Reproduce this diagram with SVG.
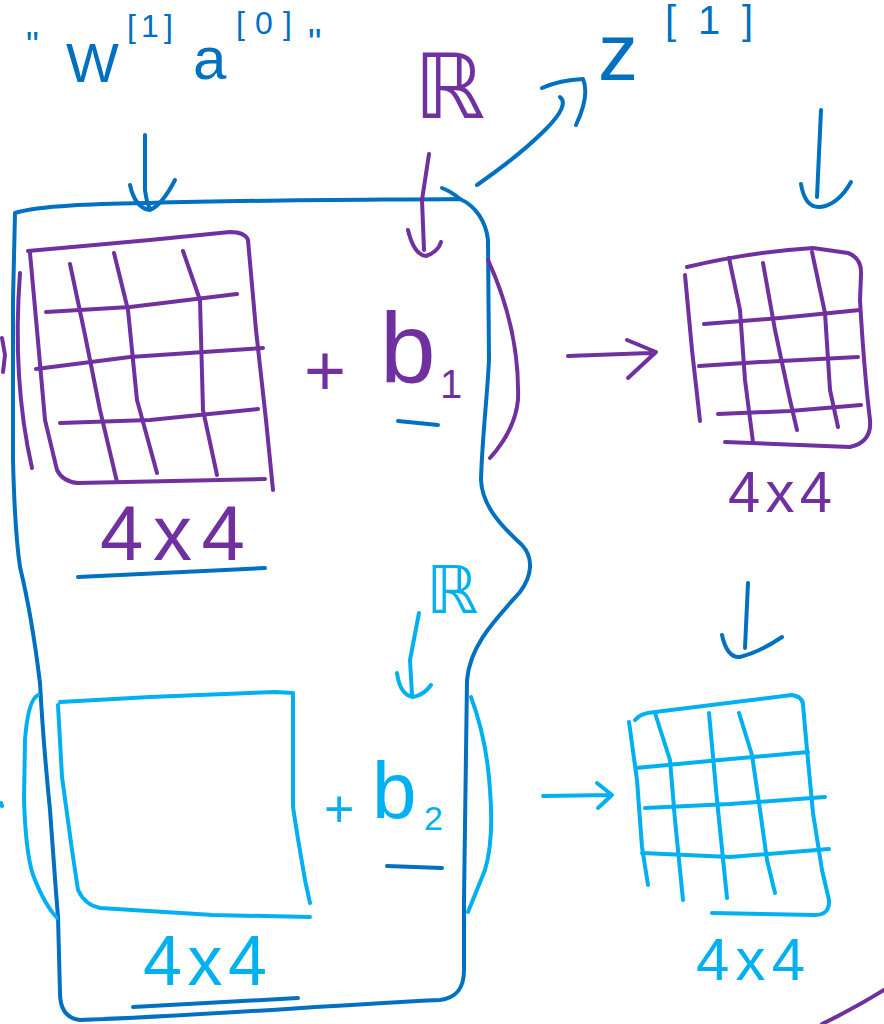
<svg xmlns="http://www.w3.org/2000/svg" width="884" height="1024" viewBox="0 0 884 1024">
<style>
.s{fill:none;stroke-width:4;stroke-linecap:round;stroke-linejoin:round}
.db{stroke:#0070c0}.pu{stroke:#7030a0}.lb{stroke:#00b0f0}
.t{font-family:"Liberation Sans","DejaVu Sans",sans-serif}
.r{font-family:"DejaVu Sans","Liberation Sans",sans-serif}
.tdb{fill:#0070c0}.tpu{fill:#7030a0}.tlb{fill:#00b0f0}
</style>
<rect width="884" height="1024" fill="#ffffff"/>

<g id="outline">
<path class="s db" d="M15,213 C40,205 100,204 150,203 C250,200 350,200 460,199 C476,206 486,222 488,240 L489,360 C487,400 482,440 481,480 C482,505 500,525 522,545 C534,558 532,576 520,592 C495,620 470,645 467,680 L464,900 L464,970 C464,990 455,998 440,1000 C330,1005 200,1016 80,1020 C64,1018 60,1005 60,993 L58,917 C55,880 52,840 50,810 C45,760 42,720 40,683 C36,650 28,600 20,567 C16,540 14,500 13,460 L13,300 Z"/>
<path class="s db" d="M442,188 Q452,192 460,199"/>
</g>

<g id="label-input">
<text class="t tdb" x="26" y="58" font-size="36">"</text>
<text class="t tdb" x="66" y="82" font-size="56">W</text>
<text class="t tdb" x="127" y="37" font-size="32" textLength="46" lengthAdjust="spacing">[1]</text>
<text class="t tdb" x="193" y="79" font-size="60">a</text>
<text class="t tdb" x="236" y="34" font-size="32" textLength="56" lengthAdjust="spacing">[0]</text>
<text class="t tdb" x="308" y="56" font-size="38">"</text>
</g>

<g id="label-R1">
<text class="r tpu" x="414" y="118" font-size="90">ℝ</text>
</g>

<g id="label-z1">
<text class="t tdb" x="598" y="80" font-size="80">z</text>
<text class="t tdb" x="665" y="34" font-size="40" textLength="88" lengthAdjust="spacing">[1]</text>
</g>

<g id="matrix-W1">
<path class="s pu" d="M28,251 L150,240 L230,232 Q245,232 248,240 L256,330 L266,420 L273,490"/>
<path class="s pu" d="M30,253 L37,330 L45,420 L57,470 Q63,482 78,483 L265,479"/>
<path class="s pu" d="M46,312 L130,307 L237,294 M36,369 L130,357 L263,348 M60,423 L150,420 L258,409"/>
<path class="s pu" d="M70,264 L85,335 L100,410 L117,482 M114,253 L128,310 L137,400 L157,473 M183,251 L200,300 L203,410 L217,475"/>
<path class="s pu" d="M20,273 Q12,380 32,468"/>
<path class="s pu" d="M2,338 L5,355 L3,372"/>
<path class="s pu" d="M488,260 Q520,330 518,400 Q515,430 490,458"/>
<text class="t tpu" x="100" y="560" font-size="78" textLength="145" lengthAdjust="spacing">4x4</text>
<path class="s db" d="M78,577 L265,568"/>
</g>

<g id="bias-b1">
<text class="t tpu" x="304" y="395" font-size="72">+</text>
<text class="t tpu" x="380" y="383" font-size="100">b</text>
<text class="t tpu" x="440" y="398" font-size="40">1</text>
<path class="s db" d="M398,421 L438,425"/>
</g>

<g id="matrix-Z1">
<path class="s pu" d="M687,267 Q750,252 813,248 L848,253 Q862,258 861,275 L860,300 Q864,370 870,420 Q872,442 850,447 L725,442"/>
<path class="s pu" d="M685,275 L692,350 L700,421"/>
<path class="s pu" d="M704,324 L780,318 L860,310 M699,366 L760,362 L858,357 M718,414 L790,411 L861,405"/>
<path class="s pu" d="M729,258 L740,310 L745,380 L753,442 M763,263 L775,330 L790,400 L797,430 M812,252 L825,313 L830,390 L838,427"/>
<text class="t tpu" x="728" y="512" font-size="58" textLength="104" lengthAdjust="spacing">4x4</text>
</g>

<g id="label-R2">
<text class="r tlb" x="426" y="613" font-size="66">ℝ</text>
</g>

<g id="matrix-W2">
<path class="s lb" d="M60,702 L150,697 L275,692 L293,693 L293,807 L297,833 L305,880 L310,903"/>
<path class="s lb" d="M58,705 L62,777 L72,850 L78,890 Q85,905 100,908 L213,915 L310,917"/>
<path class="s lb" d="M38,695 Q28,700 25,740 L24,800 Q26,860 35,880 Q45,905 57,918"/>
<path class="s lb" d="M1,803 L2,806"/>
<path class="s lb" d="M471,697 Q487,740 490,790 Q494,840 485,870 L468,912"/>
<text class="t tlb" x="143" y="985" font-size="70" textLength="124" lengthAdjust="spacing">4x4</text>
<path class="s db" d="M133,1007 L298,998"/>
</g>

<g id="bias-b2">
<text class="t tlb" x="324" y="827" font-size="52">+</text>
<text class="t tlb" x="372" y="818" font-size="80">b</text>
<text class="t tlb" x="424" y="830" font-size="34">2</text>
<path class="s db" d="M387,866 L442,868"/>
</g>

<g id="matrix-Z2">
<path class="s lb" d="M635,720 Q640,713 655,712 L792,695 Q803,697 803,705 L807,750 L813,813 L822,870 L829,900 Q830,915 815,915 L712,913"/>
<path class="s lb" d="M629,722 L637,780 L642,847 L648,885"/>
<path class="s lb" d="M636,768 L720,760 L808,752 M645,808 L730,804 L825,797 M642,853 L730,857 L829,849"/>
<path class="s lb" d="M655,713 L670,760 L675,820 L683,900 M709,713 L717,800 L727,898 M739,713 L752,755 L760,810 L767,860 L775,893"/>
<text class="t tlb" x="696" y="980" font-size="60" textLength="109" lengthAdjust="spacing">4x4</text>
</g>

<g id="connectors">
<path class="s db" d="M145,135 L145,190 Q147,205 150,208 M130,185 Q135,208 150,210 Q162,205 175,180"/>
<path class="s pu" d="M429,154 L422,200 L424,250 M408,230 Q414,255 426,256 Q438,252 441,242"/>
<path class="s db" d="M477,185 Q520,155 545,130 Q570,105 560,97 M542,88 Q560,80 583,79 Q590,95 576,125"/>
<path class="s db" d="M821,110 L817,197 M801,184 Q805,208 820,207 Q838,205 851,182"/>
<path class="s pu" d="M568,356 L650,353 M627,340 L656,352 L628,378"/>
<path class="s db" d="M748,583 L745,648 M722,635 Q727,658 740,657 Q760,652 782,637"/>
<path class="s lb" d="M419,613 L410,660 L412,695 M397,673 Q400,695 413,697 Q424,695 431,685"/>
<path class="s lb" d="M543,796 L610,795 M597,783 L612,795 L598,808"/>
<path class="s pu" d="M822,1024 Q855,1008 884,990"/>
</g>
</svg>
